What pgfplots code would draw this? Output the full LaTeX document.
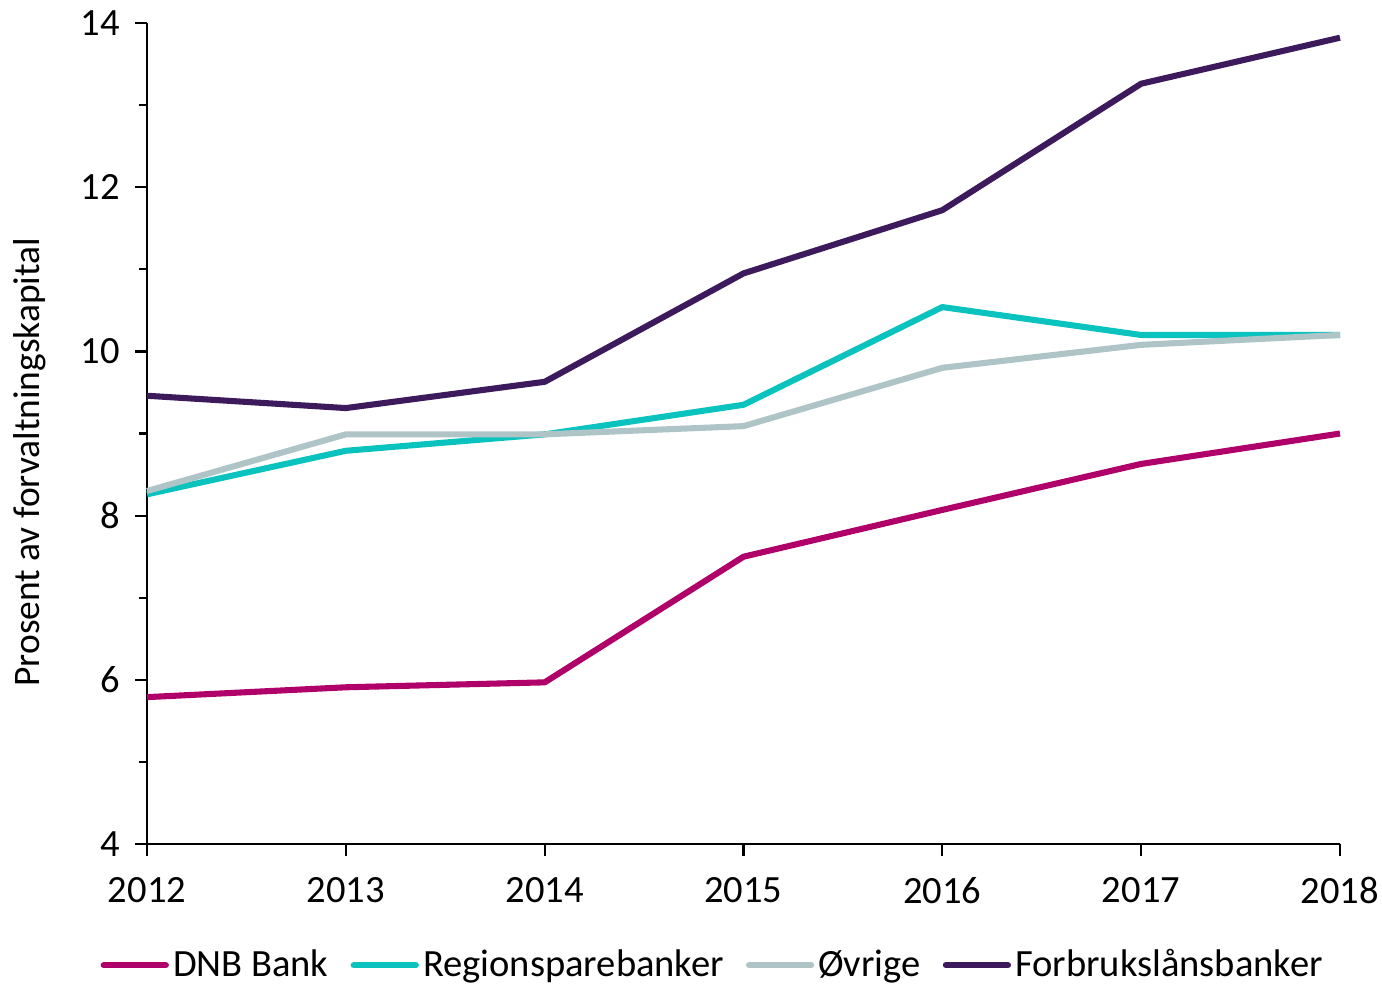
\documentclass[border=0pt]{standalone}
\usepackage{pgfplots}
\pgfplotsset{compat=1.18}
\usepackage{fontspec}
\setmainfont{Carlito}
\definecolor{dnb}{HTML}{B0006A}
\definecolor{reg}{HTML}{0BC3BE}
\definecolor{ovr}{HTML}{AEC4C7}
\definecolor{forb}{HTML}{3C1A5B}
\begin{document}
\begin{tikzpicture}
\useasboundingbox (-53.2bp,-51bp) rectangle (446.8bp,305.4bp);
\begin{axis}[
  at={(0,0)}, anchor=south west,
  scale only axis, width=431.6bp, height=297.1bp,
  xmin=2012, xmax=2018, ymin=4, ymax=14,
  axis x line*=bottom, axis y line*=left,
  axis line style={-, line width=0.8bp, black},
  xtick={2012,...,2018}, ytick={4,6,...,14}, minor ytick={5,7,...,13},
  tick align=outside, major tick length=4.3bp, minor tick length=3bp,
  tick style={black, line width=0.8bp},
  x tick label style={/pgf/number format/1000 sep=, yshift=-4.3bp},
  y tick label style={xshift=-2bp},
  /pgf/number format/assume math mode=true,
  tick label style={font=\fontsize{14}{16}\selectfont},
  ylabel={Prosent av forvaltningskapital},
  ylabel style={at={(axis description cs:-0.098,0.465)}, rotate=0, anchor=center, font=\fontsize{13.6}{15}\selectfont},
  legend style={at={(-17bp,-43.8bp)}, anchor=west, draw=none, fill=none, inner sep=0pt,
    legend columns=-1, font=\fontsize{14}{16}\selectfont,
    nodes={inner sep=1.5bp},
    /tikz/every even column/.append style={column sep=6.5bp}},
  legend image code/.code={\draw[#1, line width=2.2bp, line cap=round] (0bp,0bp) -- (22.5bp,0bp);},
  every axis plot/.append style={line width=2.2bp, line join=round},
  clip=false,
]
\addplot[dnb] coordinates {(2012,5.79) (2013,5.91) (2014,5.97) (2015,7.50) (2016,8.07) (2017,8.63) (2018,9.00)};
\addlegendentry{DNB Bank}
\addplot[reg] coordinates {(2012,8.26) (2013,8.79) (2014,8.99) (2015,9.35) (2016,10.54) (2017,10.20) (2018,10.20)};
\addlegendentry{Regionsparebanker}
\addplot[ovr] coordinates {(2012,8.30) (2013,8.99) (2014,8.99) (2015,9.09) (2016,9.80) (2017,10.08) (2018,10.20)};
\addlegendentry{Øvrige}
\addplot[forb] coordinates {(2012,9.46) (2013,9.31) (2014,9.63) (2015,10.95) (2016,11.72) (2017,13.26) (2018,13.82)};
\addlegendentry{Forbrukslånsbanker}
\end{axis}
\end{tikzpicture}
\end{document}
